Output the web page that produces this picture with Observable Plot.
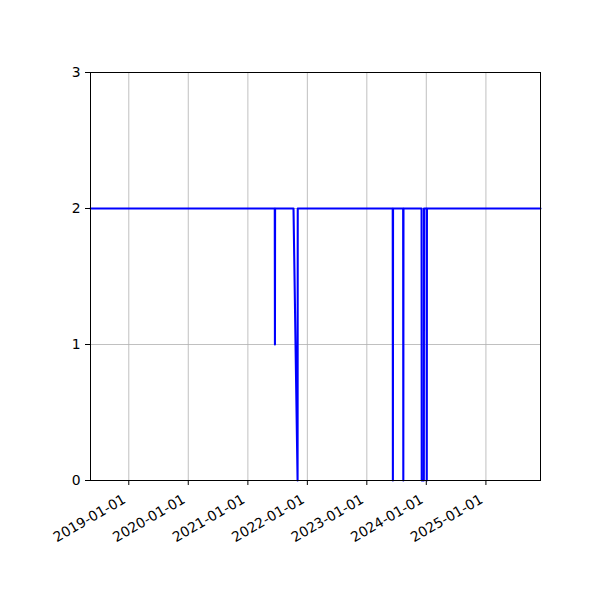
<!DOCTYPE html>
<html>
<head>
<meta charset="utf-8">
<script src="https://cdn.jsdelivr.net/npm/d3@7"></script>
<script src="https://cdn.jsdelivr.net/npm/@observablehq/plot@0.6"></script>
<style>
  html, body { margin: 0; padding: 0; background: white; }
  #chart svg { display: block; }
</style>
</head>
<body>
<div id="chart"></div>
<script>
// Change points of the series (value held between them)
const dates = [
  "2018-05-11", "2021-06-15", "2021-06-16", "2021-06-17",
  "2021-10-08", "2021-11-02", "2021-11-03",
  "2023-06-09", "2023-06-10", "2023-06-11",
  "2023-08-12", "2023-08-13", "2023-08-14",
  "2023-12-03", "2023-12-04", "2023-12-17", "2023-12-18",
  "2024-01-03", "2024-01-04", "2024-01-05",
  "2025-12-02"
];
const values = [
  2, 2, 1, 2,
  2, 0, 2,
  2, 0, 2,
  2, 0, 2,
  2, 0, 0, 2,
  2, 0, 2,
  2
];
const xTickLabels = ["2019-01-01", "2020-01-01", "2021-01-01", "2022-01-01", "2023-01-01", "2024-01-01", "2025-01-01"];
const yTicks = [0, 1, 2, 3];
const xDomain = ["2018-05-11", "2025-12-02"];

const data = dates.map((d, i) => ({date: new Date(d), value: values[i]}));
const xTicks = xTickLabels.map(d => new Date(d));
const fmt = d3.utcFormat("%Y-%m-%d");

const chart = Plot.plot({
  width: 600,
  height: 600,
  marginLeft: 90,
  marginRight: 60,
  marginTop: 72,
  marginBottom: 120,
  style: {fontFamily: "DejaVu Sans", fontSize: "13.9px", background: "white", color: "black"},
  x: {type: "utc", domain: xDomain.map(d => new Date(d))},
  y: {domain: [0, 3]},
  marks: [
    Plot.gridX(xTicks, {stroke: "#b0b0b0", strokeOpacity: 1, strokeWidth: 0.8}),
    Plot.gridY(yTicks, {stroke: "#b0b0b0", strokeOpacity: 1, strokeWidth: 0.8}),
    Plot.line(data, {x: "date", y: "value", stroke: "#0000ff", strokeWidth: 2.08, curve: "linear"}),
    Plot.frame({stroke: "black", strokeWidth: 1}),
    Plot.axisX(xTicks, {tickSize: 5, tickFormat: () => "", label: null}),
    Plot.text(xTicks, {x: d => d, frameAnchor: "bottom", dy: 13, dx: -7, rotate: -30,
      textAnchor: "end", lineAnchor: "top", text: d => fmt(d), fill: "black"}),
    Plot.axisY(yTicks, {tickSize: 5, tickPadding: 5, tickFormat: d => String(d), label: null})
  ]
});
document.getElementById("chart").appendChild(chart);
</script>
</body>
</html>
